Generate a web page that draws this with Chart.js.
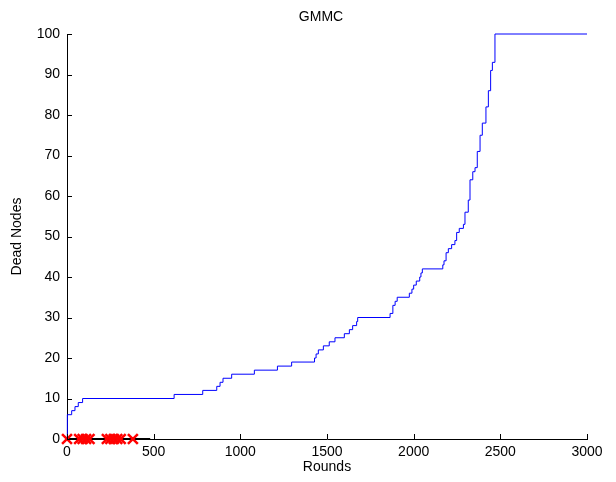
<!DOCTYPE html>
<html>
<head>
<meta charset="utf-8">
<script src="https://cdn.jsdelivr.net/npm/chart.js@4"></script>
<style>
  html, body { margin: 0; padding: 0; background: #ffffff; }
  #wrap { width: 616px; height: 482px; }
</style>
</head>
<body>
<div id="wrap"><canvas id="deadChart" width="616" height="482"></canvas></div>
<script>
// rounds at which the dead node count changes, and the new count
const rounds = [0, 2, 27, 46, 65, 90, 618, 783, 864, 883, 900, 950, 1081, 1214, 1296,
  1428, 1437, 1450, 1479, 1513, 1546, 1600, 1629, 1648, 1671, 1677, 1864, 1880, 1893,
  1905, 1975, 1990, 2000, 2015, 2035, 2042, 2050, 2168, 2175, 2187, 2200, 2219, 2238,
  2248, 2263, 2287, 2296, 2315, 2325, 2341, 2354, 2367, 2383, 2396, 2417, 2431, 2444,
  2454, 2469, 3000];
const deadNodes = [0, 6, 7, 8, 9, 10, 11, 12, 13, 14, 15, 16, 17, 18, 19,
  20, 21, 22, 23, 24, 25, 26, 27, 28, 29, 30, 31, 33, 34,
  35, 36, 37, 38, 39, 40, 41, 42, 43, 44, 46, 47, 48, 49,
  51, 52, 53, 56, 59, 64, 66, 67, 71, 75, 78, 82, 86, 91,
  93, 100, 100];

// rounds marked with red crosses on the zero line
const markRounds = [0, 70, 90, 110, 130, 230, 250, 270, 290, 310, 380];
const baseRounds = [0, 480];

const xTicks = [0, 500, 1000, 1500, 2000, 2500, 3000];
const yTicks = [0, 10, 20, 30, 40, 50, 60, 70, 80, 90, 100];

const chartTitle = "GMMC";
const FONT = "'Liberation Sans', Arial, sans-serif";

// MATLAB style ticks pointing into the plot, title centred over the axes
const matlabLook = {
  id: "matlabLook",
  afterDraw(chart) {
    const { ctx, chartArea, scales } = chart;
    ctx.save();
    ctx.strokeStyle = "#000000";
    ctx.lineWidth = 1;
    ctx.beginPath();
    xTicks.forEach((t) => {
      const px = Math.round(scales.x.getPixelForValue(t)) + 0.5;
      ctx.moveTo(px, chartArea.bottom);
      ctx.lineTo(px, chartArea.bottom - 5);
    });
    yTicks.forEach((t) => {
      const py = Math.round(scales.y.getPixelForValue(t)) + 0.5;
      ctx.moveTo(chartArea.left, py);
      ctx.lineTo(chartArea.left + 5, py);
    });
    ctx.stroke();

    ctx.fillStyle = "#000000";
    ctx.font = "normal 14px " + FONT;
    ctx.textAlign = "center";
    ctx.textBaseline = "middle";
    ctx.fillText(chartTitle, (chartArea.left + chartArea.right) / 2 - 6, 17);
    ctx.restore();
  },
};

new Chart(document.getElementById("deadChart"), {
  type: "line",
  data: {
    datasets: [
      {
        label: "dead",
        data: rounds.map((r, i) => ({ x: r, y: deadNodes[i] })),
        borderColor: "#0000ff",
        borderWidth: 1,
        pointRadius: 0,
        stepped: "before",
        clip: false,
        order: 1,
      },
      {
        label: "base",
        data: baseRounds.map((r) => ({ x: r, y: 0 })),
        borderColor: "#000000",
        borderWidth: 2,
        pointRadius: 0,
        clip: false,
        order: 3,
      },
      {
        label: "marks",
        data: markRounds.map((r) => ({ x: r, y: 0 })),
        showLine: false,
        pointStyle: "crossRot",
        pointRadius: 7,
        pointBorderColor: "#ff0000",
        pointBorderWidth: 2.5,
        clip: false,
        order: 2,
      },
    ],
  },
  options: {
    responsive: false,
    animation: false,
    layout: { padding: { left: 0, right: 29, top: 34, bottom: 0 } },
    plugins: {
      legend: { display: false },
      tooltip: { enabled: false },
      title: { display: false },
    },
    scales: {
      x: {
        type: "linear",
        min: 0,
        max: 3000,
        afterFit: (s) => { s.height = 43; },
        afterBuildTicks: (s) => { s.ticks = xTicks.map((v) => ({ value: v })); },
        grid: { drawOnChartArea: false, drawTicks: false },
        border: { display: true, color: "#000000", width: 1 },
        ticks: {
          color: "#000000",
          padding: 5,
          maxRotation: 0,
          font: { size: 14, family: FONT },
          callback: (v) => String(v),
        },
        title: {
          display: true,
          text: "Rounds",
          color: "#000000",
          font: { size: 14, family: FONT },
          padding: { top: 0, bottom: 6 },
        },
      },
      y: {
        type: "linear",
        min: 0,
        max: 100,
        afterFit: (s) => { s.width = 67; },
        afterBuildTicks: (s) => { s.ticks = yTicks.map((v) => ({ value: v })); },
        grid: { drawOnChartArea: false, drawTicks: false },
        border: { display: true, color: "#000000", width: 1 },
        ticks: {
          color: "#000000",
          padding: 7,
          font: { size: 14, family: FONT },
          callback: (v) => String(v),
        },
        title: {
          display: true,
          text: "Dead Nodes",
          color: "#000000",
          font: { size: 14, family: FONT },
          padding: { top: 9, bottom: 0 },
        },
      },
    },
  },
  plugins: [matlabLook],
});
</script>
</body>
</html>
